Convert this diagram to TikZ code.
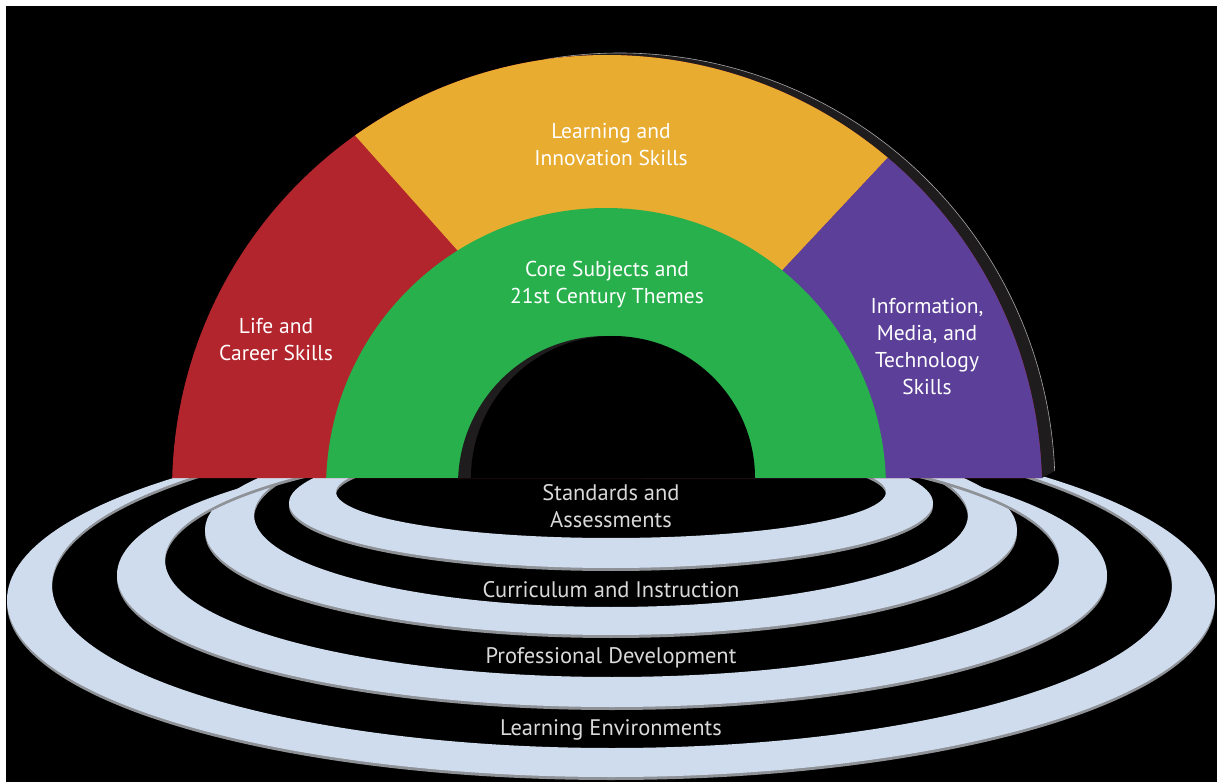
\documentclass[tikz,border=0pt]{standalone}
\usepackage{fontspec}
\setmainfont{PT Sans}
\definecolor{lifered}{HTML}{B3252D}
\definecolor{learnyellow}{HTML}{E8AC30}
\definecolor{infopurple}{HTML}{5B3F98}
\definecolor{coregreen}{HTML}{27B04B}
\definecolor{ringblue}{HTML}{CFDCEE}
\definecolor{ringshade}{HTML}{8E9196}
\definecolor{archshade}{HTML}{1E1C1D}

\begin{document}
\begin{tikzpicture}[x=1pt, y=1pt,
  archtext/.style={text=white, align=center, font=\fontsize{21.5}{27}\selectfont},
  ringtext/.style={text=black!15, align=center, font=\fontsize{22.5}{27}\selectfont},
  ringband/.style={fill=ringblue, even odd rule},
  ringedge/.style={fill=ringshade, even odd rule}]
\def\R{435}
\def\g{280}

\useasboundingbox (0,0) rectangle (1217,782);
\fill[white] (0,0) rectangle (1217,782);
\fill[black] (6,0) rectangle (1217,776);

% rings under the arch
\fill[ringedge] (611,276) ellipse [x radius=322, y radius=65] (611,287) ellipse [x radius=275, y radius=46];
\fill[ringband] (611,279) ellipse [x radius=322, y radius=65] (611,290) ellipse [x radius=275, y radius=46];
\fill[ringedge] (611,249) ellipse [x radius=406, y radius=105] (611,264) ellipse [x radius=357, y radius=92];
\fill[ringband] (611,252) ellipse [x radius=406, y radius=105] (611,267) ellipse [x radius=357, y radius=92];
\fill[ringedge] (612,204) ellipse [x radius=495, y radius=132] (612,219) ellipse [x radius=447, y radius=117];
\fill[ringband] (612,207) ellipse [x radius=495, y radius=132] (612,222) ellipse [x radius=447, y radius=117];
\fill[ringedge] (611,179) ellipse [x radius=604, y radius=177] (612,194) ellipse [x radius=560, y radius=163];
\fill[ringband] (611,182) ellipse [x radius=604, y radius=177] (612,197) ellipse [x radius=560, y radius=163];

% arch and its shadow
\fill[archshade] (1041.8,304) -- ([shift={(620,294)}]2.24:\R) arc [start angle=2.24, end angle=178, radius=\R] -- cycle;
\draw[gray!70, line width=0.6pt] ([shift={(620,294)}]2.24:\R) arc [start angle=2.24, end angle=100, radius=\R];
\fill[lifered] ([shift={(607,292)}]178.42:\R) arc [start angle=178.42, end angle=1.58, radius=\R] -- cycle;
\fill[learnyellow] ([shift={(607,292)}]125.4:\R) arc [start angle=125.4, end angle=49.8, radius=\R]
  -- ([shift={(606,294)}]51:\g) -- (606,304) -- ([shift={(606,294)}]122:\g) -- cycle;
\fill[infopurple] ([shift={(607,292)}]49.8:\R) arc [start angle=49.8, end angle=1.58, radius=\R]
  -- (606,304) -- ([shift={(606,294)}]51:\g) -- cycle;
\fill[coregreen] ([shift={(606,294)}]177.95:\g) arc [start angle=177.95, end angle=2.05, radius=\g] -- cycle;
\fill[archshade] ([shift={(606,298)}]177.68:148) arc [start angle=177.68, end angle=2.32, radius=148] -- cycle;
\fill[black] (755,304) arc [start angle=0, end angle=180, radius=142] -- cycle;

\node[archtext] (learn) at (611,637) {Learning and\\Innovation Skills};
\node[archtext] (core) at (607,497) {Core Subjects and\\21st Century Themes};
\node[archtext] (life) at (276,442) {Life and\\Career Skills};
\node[archtext] (info) at (927,435) {Information,\\Media, and\\Technology\\Skills};

\node[ringtext] (standards) at (611,276) {Standards and\\Assessments};
\node[ringtext] (curriculum) at (611,192) {Curriculum and Instruction};
\node[ringtext] (professional) at (611,124) {Professional Development};
\node[ringtext] (environments) at (611,52) {Learning Environments};
\end{tikzpicture}
\end{document}
